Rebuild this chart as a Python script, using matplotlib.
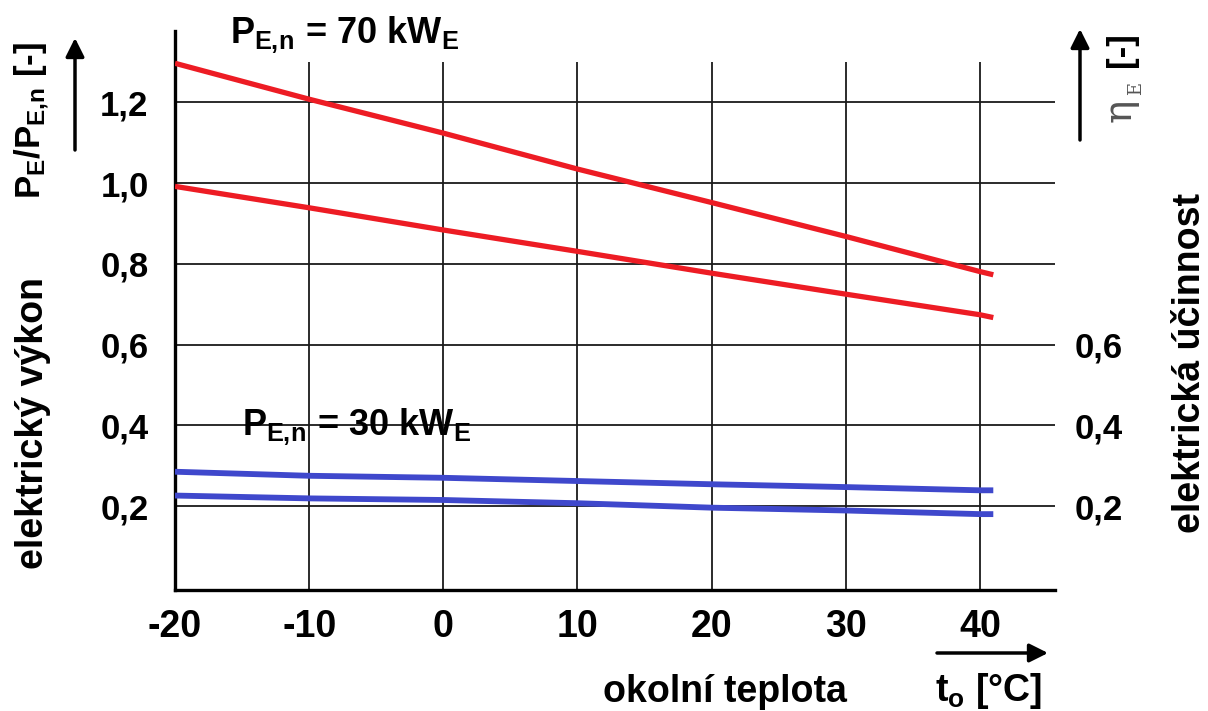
import matplotlib.pyplot as plt

plt.rcParams['font.family'] = ['Liberation Sans', 'DejaVu Sans']
plt.rcParams['font.weight'] = 'bold'
plt.rcParams['mathtext.fontset'] = 'custom'
plt.rcParams['mathtext.rm'] = 'Liberation Sans:bold'
plt.rcParams['mathtext.it'] = 'Liberation Sans:bold'
plt.rcParams['mathtext.bf'] = 'Liberation Sans:bold'

# ambient temperature [°C]
temp = [-20, -10, 0, 10, 20, 30, 40, 41]

# 70 kW_E unit: relative power P_E/P_E,n and efficiency
red_upper = [1.297, 1.208, 1.124, 1.035, 0.952, 0.868, 0.781, 0.773]
red_lower = [0.992, 0.939, 0.884, 0.831, 0.777, 0.725, 0.674, 0.667]

# 30 kW_E unit
blue_upper = [0.285, 0.275, 0.270, 0.262, 0.254, 0.247, 0.239, 0.239]
blue_lower = [0.226, 0.219, 0.215, 0.207, 0.196, 0.189, 0.180, 0.180]

x_ticks = [-20, -10, 0, 10, 20, 30, 40]
x_labels = ['-20', '-10', '0', '10', '20', '30', '40']
y_ticks = [0.2, 0.4, 0.6, 0.8, 1.0, 1.2]
y_labels = ['0,2', '0,4', '0,6', '0,8', '1,0', '1,2']
r_ticks = [0.2, 0.4, 0.6]
r_labels = ['0,2', '0,4', '0,6']

xmin, xmax = -20, 45.6
ymin, ymax = -0.008, 1.377

fig = plt.figure(figsize=(12.08, 7.11), dpi=100)
ax = fig.add_axes([175/1208, 1 - 590/711, 880/1208, 559/711])
ax.set_xlim(xmin, xmax)
ax.set_ylim(ymin, ymax)

# grid
ax.hlines(y_ticks, xmin, xmax, color='#1a1a1a', lw=1.3, zorder=1)
ax.vlines(x_ticks[1:], ymin, 1.30, color='#1a1a1a', lw=1.3, zorder=1)

ax.plot(temp, red_upper, color='#ed1c24', lw=3.8, solid_capstyle='butt', zorder=3)
ax.plot(temp, red_lower, color='#ed1c24', lw=3.8, solid_capstyle='butt', zorder=3)
ax.plot(temp, blue_upper, color='#3f48cc', lw=4.2, solid_capstyle='butt', zorder=3)
ax.plot(temp, blue_lower, color='#3f48cc', lw=4.2, solid_capstyle='butt', zorder=3)

for s in ['top', 'right']:
    ax.spines[s].set_visible(False)
ax.spines['left'].set_linewidth(2.4)
ax.spines['bottom'].set_linewidth(2.4)

ax.set_xticks(x_ticks)
ax.set_xticklabels(x_labels, fontsize=27, fontweight='bold')
ax.set_yticks(y_ticks)
ax.set_yticklabels(y_labels, fontsize=25, fontweight='bold')
ax.tick_params(axis='x', length=0, pad=14)
ax.tick_params(axis='y', length=0, pad=19)

ax2 = ax.twinx()
ax2.set_ylim(ymin, ymax)
ax2.set_yticks(r_ticks)
ax2.set_yticklabels(r_labels, fontsize=25, fontweight='bold')
ax2.tick_params(axis='y', length=0, pad=14)
for s in ax2.spines.values():
    s.set_visible(False)

# titles for the two curve groups
fig.text(230, 668, r'$P_{\mathrm{E,\!n}}$ = 70 kW$_{\mathrm{E}}$', fontsize=26,
         fontweight='bold', transform=None, va='baseline')
fig.text(242, 276, r'$P_{\mathrm{E,\!n}}$ = 30 kW$_{\mathrm{E}}$', fontsize=26,
         fontweight='bold', transform=None, va='baseline')

# axis captions
fig.text(32, 591, r'$P_{\mathrm{E}}/P_{\mathrm{E,\!n}}$ [-]', fontsize=25, fontweight='bold',
         rotation=90, transform=None, ha='center', va='center')
fig.text(33, 288, 'elektrický výkon', fontsize=27, fontweight='bold',
         rotation=90, transform=None, ha='center', va='center')
fig.text(1190, 348, 'elektrická účinnost', fontsize=27, fontweight='bold',
         rotation=90, transform=None, ha='center', va='center')
fig.text(1122, 661, '[-]', fontsize=25, fontweight='bold',
         rotation=90, transform=None, ha='center', va='center')
fig.text(1120, 711 - 110, 'η', fontsize=28, color='#555555', family='DejaVu Serif',
         fontweight='normal', rotation=90, transform=None, ha='center', va='center')
fig.text(1136, 711 - 88, 'E', fontsize=13, color='#555555', family='DejaVu Serif',
         fontweight='normal', rotation=90, transform=None, ha='center', va='center')
fig.text(603, 9, 'okolní teplota', fontsize=27, fontweight='bold',
         transform=None, va='baseline')
fig.text(935, 10, r't$_{\mathrm{o}}$ [°C]', fontsize=27, fontweight='bold',
         transform=None, va='baseline')

arrow = dict(arrowstyle='-|>', lw=2.5, color='black', mutation_scale=28,
             shrinkA=0, shrinkB=0)
ax.annotate('', xy=(75, 711 - 38), xytext=(75, 711 - 150),
            xycoords='figure pixels', textcoords='figure pixels', arrowprops=arrow)
ax.annotate('', xy=(1080, 711 - 29), xytext=(1080, 711 - 140),
            xycoords='figure pixels', textcoords='figure pixels', arrowprops=arrow)
ax.annotate('', xy=(1048, 711 - 653), xytext=(937, 711 - 653),
            xycoords='figure pixels', textcoords='figure pixels', arrowprops=arrow)

fig.savefig('out.png', dpi=100)
